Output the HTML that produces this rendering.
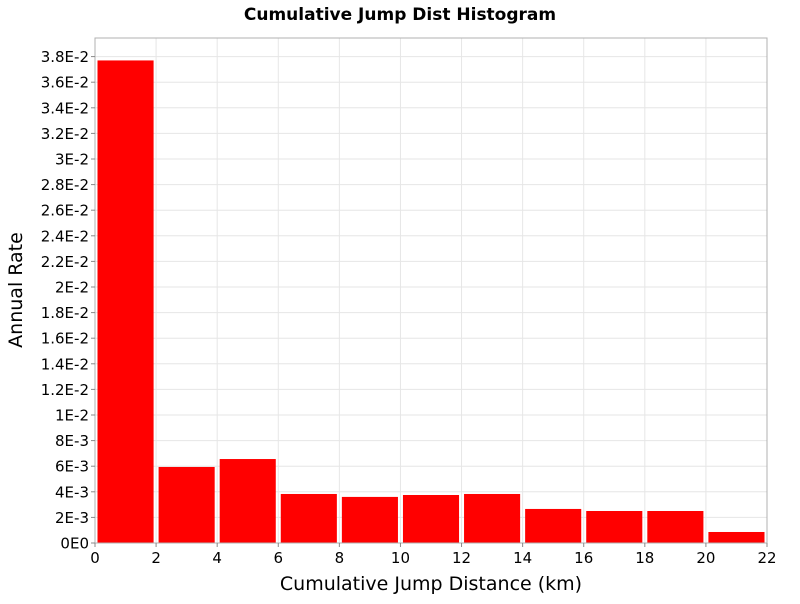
<!DOCTYPE html>
<html><head><meta charset="utf-8"><style>
body{margin:0;background:#fff;font-family:"DejaVu Sans","Liberation Sans",sans-serif;}
</style></head><body>
<svg id="chart" width="800" height="600" xmlns="http://www.w3.org/2000/svg">
<text x="400" y="20" text-anchor="middle" font-size="17" font-weight="bold" font-family="DejaVu Sans, sans-serif">Cumulative Jump Dist Histogram</text>
<g id="grid"></g>
<g id="bars"></g>
<rect x="95" y="38" width="672" height="505" fill="none" stroke="#b0b0b0" stroke-width="1"/>
<g id="axes"></g>
<text x="431" y="590" text-anchor="middle" font-size="19">Cumulative Jump Distance (km)</text>
<text transform="translate(22,290) rotate(-90)" text-anchor="middle" font-size="19">Annual Rate</text>
</svg>
<script>
const binStarts=[0,2,4,6,8,10,12,14,16,18,20];
const rates=[0.0377,0.00594,0.00656,0.00383,0.0036,0.00375,0.00383,0.00266,0.0025,0.0025,0.00086];
const xTicks=[0,2,4,6,8,10,12,14,16,18,20,22];
const yTickLabels=["0E0","2E-3","4E-3","6E-3","8E-3","1E-2","1.2E-2","1.4E-2","1.6E-2","1.8E-2","2E-2","2.2E-2","2.4E-2","2.6E-2","2.8E-2","3E-2","3.2E-2","3.4E-2","3.6E-2","3.8E-2"];
const yTickValues=[0,0.002,0.004,0.006,0.008,0.01,0.012,0.014,0.016,0.018,0.02,0.022,0.024,0.026,0.028,0.03,0.032,0.034,0.036,0.038];
const binWidth=2;
const L=95,R=767,T=38,B=543;
const xs=v=>L+(v/22)*(R-L);
const ys=v=>B-(v/0.038)*(B-56.6);
const NS="http://www.w3.org/2000/svg";
function mk(tag,attrs,parent){const e=document.createElementNS(NS,tag);for(const k in attrs)e.setAttribute(k,attrs[k]);parent.appendChild(e);return e;}
const grid=document.getElementById('grid'),bars=document.getElementById('bars'),axes=document.getElementById('axes');
xTicks.forEach(t=>{
  const l=mk('line',{x1:xs(t),x2:xs(t),y1:T,y2:B,stroke:'#e6e6e6'},grid);
  
  
  const tk=mk('line',{x1:xs(t),x2:xs(t),y1:B,y2:B+4,stroke:'#888'},axes);
  
  
  const tx=mk('text',{x:xs(t),y:B+20,'text-anchor':'middle','font-size':'15'},axes);
  tx.textContent=t;
  
  
});
yTickValues.forEach((v,i)=>{
  const l=mk('line',{x1:L,x2:R,y1:ys(v),y2:ys(v),stroke:'#e6e6e6'},grid);
  
  
  const tk=mk('line',{x1:L-4,x2:L,y1:ys(v),y2:ys(v),stroke:'#888'},axes);
  
  
  const tx=mk('text',{x:L-6,y:ys(v)+5.5,'text-anchor':'end','font-size':'15'},axes);
  tx.textContent=yTickLabels[i];
  
  
});
binStarts.forEach((s,i)=>{
  const x0=xs(s)+2.5,x1=xs(s+binWidth)-2.5;
  const r=mk('rect',{x:x0,y:ys(rates[i]),width:x1-x0,height:B-ys(rates[i]),fill:'#ff0000'},bars);
  
  
});
</script>
</body></html>
